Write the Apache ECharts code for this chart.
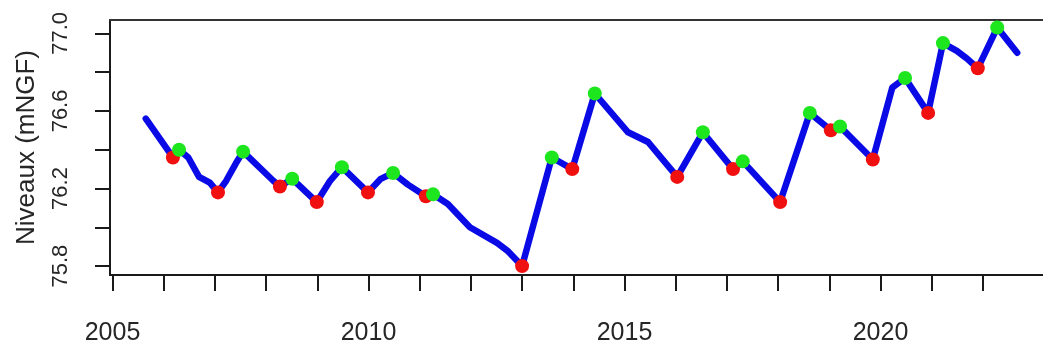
<!DOCTYPE html>
<html>
<head>
<meta charset="utf-8">
<title>Niveaux (mNGF)</title>
<script src="https://cdn.jsdelivr.net/npm/echarts@6/dist/echarts.min.js"></script>
<style>
  html, body { margin: 0; padding: 0; background: #ffffff; }
  #chart { width: 1043px; height: 351px; }
</style>
</head>
<body>
<div id="chart"></div>
<script>
// Piezometric level series (decimal year, level in mNGF)
const dates = [2005.65, 2006.18, 2006.30, 2006.48, 2006.69, 2006.90, 2007.06, 2007.22, 2007.41, 2007.55,
               2008.14, 2008.27, 2008.51, 2008.99, 2009.25, 2009.48, 2009.99, 2010.24, 2010.48, 2010.77,
               2011.12, 2011.26, 2011.55, 2011.98, 2012.51, 2012.71, 2013.00, 2013.58, 2013.98, 2014.42,
               2015.07, 2015.46, 2016.03, 2016.53, 2017.12, 2017.31, 2018.04, 2018.62, 2019.03, 2019.21,
               2019.85, 2020.23, 2020.48, 2020.93, 2021.22, 2021.49, 2021.69, 2021.90, 2022.28, 2022.67];
const levels = [76.56, 76.36, 76.40, 76.36, 76.26, 76.23, 76.18, 76.24, 76.33, 76.39,
                76.24, 76.21, 76.25, 76.13, 76.24, 76.31, 76.18, 76.25, 76.28, 76.22,
                76.16, 76.17, 76.12, 76.00, 75.92, 75.88, 75.80, 76.36, 76.30, 76.69,
                76.49, 76.44, 76.26, 76.49, 76.30, 76.34, 76.13, 76.59, 76.50, 76.52,
                76.35, 76.72, 76.77, 76.59, 76.95, 76.91, 76.87, 76.82, 77.03, 76.90];

// Seasonal high-water points (green)
const highDates  = [2006.30, 2007.55, 2008.51, 2009.48, 2010.48, 2011.26, 2013.58, 2014.42,
                    2016.53, 2017.31, 2018.62, 2019.21, 2020.48, 2021.22, 2022.28];
const highLevels = [76.40, 76.39, 76.25, 76.31, 76.28, 76.17, 76.36, 76.69,
                    76.49, 76.34, 76.59, 76.52, 76.77, 76.95, 77.03];

// Seasonal low-water points (red)
const lowDates  = [2006.18, 2007.06, 2008.27, 2008.99, 2009.99, 2011.12, 2013.00, 2013.98,
                   2016.03, 2017.12, 2018.04, 2019.03, 2019.85, 2020.93, 2021.90];
const lowLevels = [76.36, 76.18, 76.21, 76.13, 76.18, 76.16, 75.80, 76.30,
                   76.26, 76.30, 76.13, 76.50, 76.35, 76.59, 76.82];

// Axis ticks and labels
const yearTicks  = [2005, 2006, 2007, 2008, 2009, 2010, 2011, 2012, 2013, 2014,
                    2015, 2016, 2017, 2018, 2019, 2020, 2021, 2022];
const yearLabels = [2005, 2010, 2015, 2020];
const levelTicks  = [75.8, 76.0, 76.2, 76.4, 76.6, 76.8, 77.0];
const levelLabels = [75.8, 76.2, 76.6, 77.0];

const pair = (xs, ys) => xs.map((x, i) => [x, ys[i]]);

const FONT = '"Liberation Sans", Arial, Helvetica, sans-serif';
const TEXT = '#262626';
const AXIS = '#1a1a1a';

const xRange = { min: 2004.951, max: 2023.174 };
const yRange = { min: 75.754, max: 77.069 };

const chart = echarts.init(document.getElementById('chart'), null, { renderer: 'canvas' });

chart.setOption({
  animation: false,
  backgroundColor: '#ffffff',
  grid: { left: 110, right: 0, top: 20, bottom: 76 },
  xAxis: [
    {
      type: 'value',
      position: 'bottom',
      min: xRange.min,
      max: xRange.max,
      axisLine: { show: true, lineStyle: { color: AXIS, width: 2 } },
      axisTick: { show: true, customValues: yearTicks, length: 16, inside: false,
                  lineStyle: { color: AXIS, width: 2 } },
      axisLabel: { show: true, customValues: yearLabels, margin: 58,
                   verticalAlign: 'middle', align: 'center',
                   fontFamily: FONT, fontSize: 25, color: TEXT,
                   formatter: v => String(Math.round(v)) },
      splitLine: { show: false }
    },
    {
      type: 'value',
      position: 'top',
      min: xRange.min,
      max: xRange.max,
      axisLine: { show: true, lineStyle: { color: '#333333', width: 2 } },
      axisTick: { show: false },
      axisLabel: { show: false },
      splitLine: { show: false }
    }
  ],
  yAxis: {
    type: 'value',
    min: yRange.min,
    max: yRange.max,
    name: 'Niveaux (mNGF)',
    nameLocation: 'middle',
    nameRotate: 90,
    nameGap: 83,
    nameTextStyle: { fontFamily: FONT, fontSize: 26, color: TEXT,
                     verticalAlign: 'middle', align: 'center' },
    axisLine: { show: true, lineStyle: { color: AXIS, width: 2 } },
    axisTick: { show: true, customValues: levelTicks, length: 15, inside: false,
                lineStyle: { color: AXIS, width: 2 } },
    axisLabel: { show: true, customValues: levelLabels, rotate: 90, margin: 49,
                 align: 'center', verticalAlign: 'middle',
                 fontFamily: FONT, fontSize: 22, color: TEXT,
                 formatter: v => v.toFixed(1) },
    splitLine: { show: false }
  },
  series: [
    {
      name: 'Niveau',
      type: 'line',
      xAxisIndex: 0,
      data: pair(dates, levels),
      showSymbol: false,
      smooth: false,
      lineStyle: { color: '#0a0ae6', width: 6.5, cap: 'round', join: 'round' },
      z: 2
    },
    {
      name: 'Basses eaux',
      type: 'scatter',
      xAxisIndex: 0,
      data: pair(lowDates, lowLevels),
      symbol: 'circle',
      symbolSize: 14,
      itemStyle: { color: '#f01010', opacity: 1 },
      z: 3
    },
    {
      name: 'Hautes eaux',
      type: 'scatter',
      xAxisIndex: 0,
      data: pair(highDates, highLevels),
      symbol: 'circle',
      symbolSize: 14,
      itemStyle: { color: '#1ee61e', opacity: 1 },
      z: 4
    }
  ]
});
</script>
</body>
</html>
